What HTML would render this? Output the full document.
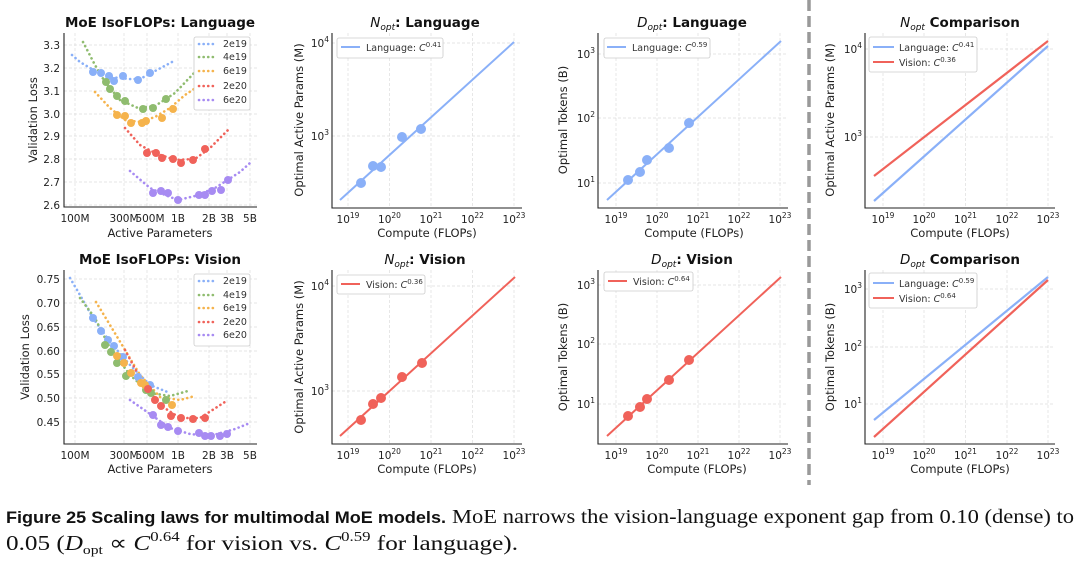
<!DOCTYPE html>
<html><head><meta charset="utf-8"><style>
html,body{margin:0;padding:0;background:#fff;}
svg{display:block;font-family:"DejaVu Sans","Liberation Sans",sans-serif;}
.g{stroke:#ddd;stroke-width:0.7;stroke-dasharray:3,2;}
.ax{stroke:#222;stroke-width:1.1;fill:none;}
.tk{font-size:10.5px;fill:#222;}
.lb{font-size:11.5px;fill:#222;}
.tt{font-size:13.5px;font-weight:bold;fill:#111;}
.lg{fill:#fff;stroke:#ccc;stroke-width:0.8;}
.lt{font-size:9.5px;fill:#333;}
.dot{fill:none;stroke-width:2.6;stroke-dasharray:0.1,4.5;stroke-linecap:round;}
</style></head><body>
<svg width="1080" height="561" viewBox="0 0 1080 561" xmlns="http://www.w3.org/2000/svg">

<!-- ============ Panel 1: MoE IsoFLOPs Language ============ -->
<g>
<g class="g">
<line x1="75" y1="33" x2="75" y2="207"/><line x1="124" y1="33" x2="124" y2="207"/><line x1="147" y1="33" x2="147" y2="207"/><line x1="178" y1="33" x2="178" y2="207"/><line x1="209" y1="33" x2="209" y2="207"/><line x1="227" y1="33" x2="227" y2="207"/><line x1="250" y1="33" x2="250" y2="207"/>
<line x1="64" y1="45" x2="257" y2="45"/><line x1="64" y1="68" x2="257" y2="68"/><line x1="64" y1="91" x2="257" y2="91"/><line x1="64" y1="114" x2="257" y2="114"/><line x1="64" y1="136" x2="257" y2="136"/><line x1="64" y1="159" x2="257" y2="159"/><line x1="64" y1="182" x2="257" y2="182"/><line x1="64" y1="205" x2="257" y2="205"/>
</g>
<g class="dot">
<polyline stroke="#8ab0f8" points="72,55 80,62 90,68 110,77 130,79 140,79 155,71 172,62"/>
<polyline stroke="#8fbc6f" points="83,42 95,65 105,82 120,100 138,108 155,106 175,93 195,72"/>
<polyline stroke="#f5b34c" points="95,92 110,108 125,120 140,122 155,117 170,108 185,95 200,85"/>
<polyline stroke="#f0625a" points="125,128 140,145 155,153 175,160 195,159 210,148 228,130"/>
<polyline stroke="#a78bf2" points="130,171 150,188 165,195 178,200 195,196 215,188 240,172 250,163"/>
</g>
<g fill="#8ab0f8"><circle cx="93" cy="72" r="4"/><circle cx="101" cy="73" r="4"/><circle cx="109" cy="76" r="4"/><circle cx="114" cy="81" r="4"/><circle cx="123" cy="76" r="4"/><circle cx="138" cy="80" r="4"/><circle cx="150" cy="73" r="4"/></g>
<g fill="#8fbc6f"><circle cx="106" cy="82" r="4"/><circle cx="110" cy="89" r="4"/><circle cx="117" cy="96" r="4"/><circle cx="125" cy="101" r="4"/><circle cx="143" cy="109" r="4"/><circle cx="153" cy="108" r="4"/><circle cx="166" cy="99" r="4"/></g>
<g fill="#f5b34c"><circle cx="117" cy="115" r="4"/><circle cx="125" cy="116" r="4"/><circle cx="131" cy="123" r="4"/><circle cx="142" cy="123" r="4"/><circle cx="146" cy="121" r="4"/><circle cx="162" cy="118" r="4"/><circle cx="173" cy="109" r="4"/></g>
<g fill="#f0625a"><circle cx="147" cy="153" r="4"/><circle cx="156" cy="153" r="4"/><circle cx="162" cy="158" r="4"/><circle cx="173" cy="159" r="4"/><circle cx="181" cy="163" r="4"/><circle cx="193" cy="160" r="4"/><circle cx="205" cy="149" r="4"/></g>
<g fill="#a78bf2"><circle cx="153" cy="193" r="4"/><circle cx="161" cy="191" r="4"/><circle cx="168" cy="193" r="4"/><circle cx="178" cy="200" r="4"/><circle cx="199" cy="195" r="4"/><circle cx="205" cy="195" r="4"/><circle cx="212" cy="191" r="4"/><circle cx="221" cy="190" r="4"/><circle cx="228" cy="180" r="4"/></g>
<path class="ax" d="M64,33 V207 H257"/>
<g class="tk" text-anchor="end"><text x="60" y="49">3.3</text><text x="60" y="72">3.2</text><text x="60" y="95">3.1</text><text x="60" y="118">3.0</text><text x="60" y="140">2.9</text><text x="60" y="163">2.8</text><text x="60" y="186">2.7</text><text x="60" y="209">2.6</text></g>
<g class="tk" text-anchor="middle"><text x="75" y="222">100M</text><text x="124" y="222">300M</text><text x="150" y="222">500M</text><text x="178" y="222">1B</text><text x="209" y="222">2B</text><text x="227" y="222">3B</text><text x="250" y="222">5B</text></g>
<text class="lb" x="160" y="237" text-anchor="middle">Active Parameters</text>
<text class="lb" x="37" y="120" text-anchor="middle" transform="rotate(-90 37 120)">Validation Loss</text>
<text class="tt" x="160" y="27" text-anchor="middle">MoE IsoFLOPs: Language</text>
<rect class="lg" x="194" y="37" width="56" height="73" rx="2"/>
<g class="dot" stroke-width="2.3"><line x1="199" y1="44" x2="217" y2="44" stroke="#8ab0f8"/><line x1="199" y1="57" x2="217" y2="57" stroke="#8fbc6f"/><line x1="199" y1="71" x2="217" y2="71" stroke="#f5b34c"/><line x1="199" y1="86" x2="217" y2="86" stroke="#f0625a"/><line x1="199" y1="100" x2="217" y2="100" stroke="#a78bf2"/></g>
<g class="lt"><text x="223" y="47">2e19</text><text x="223" y="60">4e19</text><text x="223" y="74">6e19</text><text x="223" y="89">2e20</text><text x="223" y="103">6e20</text></g>
</g>

<!-- ============ Panel 5: MoE IsoFLOPs Vision ============ -->
<g>
<g class="g">
<line x1="75" y1="270" x2="75" y2="444"/><line x1="124" y1="270" x2="124" y2="444"/><line x1="147" y1="270" x2="147" y2="444"/><line x1="178" y1="270" x2="178" y2="444"/><line x1="209" y1="270" x2="209" y2="444"/><line x1="227" y1="270" x2="227" y2="444"/><line x1="250" y1="270" x2="250" y2="444"/>
<line x1="64" y1="279" x2="257" y2="279"/><line x1="64" y1="303" x2="257" y2="303"/><line x1="64" y1="327" x2="257" y2="327"/><line x1="64" y1="351" x2="257" y2="351"/><line x1="64" y1="374" x2="257" y2="374"/><line x1="64" y1="398" x2="257" y2="398"/><line x1="64" y1="422" x2="257" y2="422"/>
</g>
<g class="dot">
<polyline stroke="#8ab0f8" points="70,278 80,295 93,318 110,342 130,365 150,385 170,393"/>
<polyline stroke="#8fbc6f" points="80,298 95,318 110,348 130,375 150,393 170,396 188,391"/>
<polyline stroke="#f5b34c" points="96,302 110,325 125,350 140,375 160,397 180,400 195,396"/>
<polyline stroke="#f0625a" points="125,350 140,378 160,405 180,418 200,418 228,400"/>
<polyline stroke="#a78bf2" points="130,400 150,414 170,428 190,434 210,436 235,429 250,423"/>
</g>
<g fill="#8ab0f8"><circle cx="93" cy="318" r="4"/><circle cx="101" cy="331" r="4"/><circle cx="108" cy="340" r="4"/><circle cx="114" cy="346" r="4"/><circle cx="123" cy="357" r="4"/><circle cx="138" cy="377" r="4"/><circle cx="150" cy="385" r="4"/></g>
<g fill="#8fbc6f"><circle cx="105" cy="345" r="4"/><circle cx="111" cy="352" r="4"/><circle cx="117" cy="363" r="4"/><circle cx="126" cy="376" r="4"/><circle cx="146" cy="390" r="4"/><circle cx="151" cy="393" r="4"/><circle cx="166" cy="400" r="4"/></g>
<g fill="#f5b34c"><circle cx="117" cy="356" r="4"/><circle cx="124" cy="363" r="4"/><circle cx="131" cy="373" r="4"/><circle cx="141" cy="383" r="4"/><circle cx="145" cy="385" r="4"/><circle cx="172" cy="405" r="4"/></g>
<g fill="#f0625a"><circle cx="148" cy="389" r="4"/><circle cx="155" cy="400" r="4"/><circle cx="161" cy="406" r="4"/><circle cx="171" cy="416" r="4"/><circle cx="181" cy="418" r="4"/><circle cx="193" cy="419" r="4"/><circle cx="205" cy="418" r="4"/></g>
<g fill="#a78bf2"><circle cx="153" cy="415" r="4"/><circle cx="161" cy="425" r="4"/><circle cx="168" cy="427" r="4"/><circle cx="178" cy="431" r="4"/><circle cx="199" cy="433" r="4"/><circle cx="205" cy="436" r="4"/><circle cx="211" cy="436" r="4"/><circle cx="220" cy="436" r="4"/><circle cx="227" cy="434" r="4"/></g>
<path class="ax" d="M64,270 V444 H257"/>
<g class="tk" text-anchor="end"><text x="60" y="283">0.75</text><text x="60" y="307">0.70</text><text x="60" y="331">0.65</text><text x="60" y="355">0.60</text><text x="60" y="378">0.55</text><text x="60" y="402">0.50</text><text x="60" y="426">0.45</text></g>
<g class="tk" text-anchor="middle"><text x="75" y="459">100M</text><text x="124" y="459">300M</text><text x="150" y="459">500M</text><text x="178" y="459">1B</text><text x="209" y="459">2B</text><text x="227" y="459">3B</text><text x="250" y="459">5B</text></g>
<text class="lb" x="160" y="473" text-anchor="middle">Active Parameters</text>
<text class="lb" x="29" y="357" text-anchor="middle" transform="rotate(-90 29 357)">Validation Loss</text>
<text class="tt" x="160" y="264" text-anchor="middle">MoE IsoFLOPs: Vision</text>
<rect class="lg" x="194" y="274" width="56" height="72" rx="2"/>
<g class="dot" stroke-width="2.3"><line x1="199" y1="281" x2="217" y2="281" stroke="#8ab0f8"/><line x1="199" y1="295" x2="217" y2="295" stroke="#8fbc6f"/><line x1="199" y1="308" x2="217" y2="308" stroke="#f5b34c"/><line x1="199" y1="322" x2="217" y2="322" stroke="#f0625a"/><line x1="199" y1="335" x2="217" y2="335" stroke="#a78bf2"/></g>
<g class="lt"><text x="223" y="284">2e19</text><text x="223" y="298">4e19</text><text x="223" y="311">6e19</text><text x="223" y="325">2e20</text><text x="223" y="338">6e20</text></g>
</g>

<!-- ============ Panel 2: Nopt Language ============ -->
<g>
<g class="g">
<line x1="348" y1="33" x2="348" y2="208"/><line x1="389.5" y1="33" x2="389.5" y2="208"/><line x1="431" y1="33" x2="431" y2="208"/><line x1="472.5" y1="33" x2="472.5" y2="208"/><line x1="514" y1="33" x2="514" y2="208"/>
<line x1="332" y1="43" x2="522" y2="43"/><line x1="332" y1="136" x2="522" y2="136"/>
</g>
<line x1="340" y1="200" x2="514" y2="42" stroke="#8ab0f8" stroke-width="2"/>
<g fill="#8ab0f8"><circle cx="361" cy="183" r="5"/><circle cx="373" cy="166" r="5"/><circle cx="381" cy="167" r="5"/><circle cx="402" cy="137" r="5"/><circle cx="421" cy="129" r="5"/></g>
<path class="ax" d="M332,33 V208 H522"/>
<g class="tk" text-anchor="middle"><text x="348" y="223">10<tspan dy="-5" font-size="7.5">19</tspan></text><text x="389.5" y="223">10<tspan dy="-5" font-size="7.5">20</tspan></text><text x="431" y="223">10<tspan dy="-5" font-size="7.5">21</tspan></text><text x="472.5" y="223">10<tspan dy="-5" font-size="7.5">22</tspan></text><text x="514" y="223">10<tspan dy="-5" font-size="7.5">23</tspan></text></g>
<g class="tk" text-anchor="end"><text x="329" y="47">10<tspan dy="-5" font-size="7.5">4</tspan></text><text x="329" y="140">10<tspan dy="-5" font-size="7.5">3</tspan></text></g>
<text class="lb" x="427" y="237" text-anchor="middle">Compute (FLOPs)</text>
<text class="lb" x="303" y="120" text-anchor="middle" transform="rotate(-90 303 120)">Optimal Active Params (M)</text>
<text class="tt" x="425" y="27" text-anchor="middle"><tspan font-style="italic" font-weight="normal">N<tspan font-size="9" dy="3">opt</tspan></tspan><tspan dy="-3">: Language</tspan></text>
<rect class="lg" x="337" y="38" width="106" height="20" rx="2"/>
<line x1="341" y1="47" x2="360" y2="47" stroke="#8ab0f8" stroke-width="2"/>
<text class="lt" x="366" y="51">Language: <tspan font-style="italic">C</tspan><tspan dy="-4" font-size="7">0.41</tspan></text>
</g>

<!-- ============ Panel 6: Nopt Vision ============ -->
<g>
<g class="g">
<line x1="348" y1="270" x2="348" y2="444"/><line x1="389.5" y1="270" x2="389.5" y2="444"/><line x1="431" y1="270" x2="431" y2="444"/><line x1="472.5" y1="270" x2="472.5" y2="444"/><line x1="514" y1="270" x2="514" y2="444"/>
<line x1="332" y1="286" x2="522" y2="286"/><line x1="332" y1="391" x2="522" y2="391"/>
</g>
<line x1="340" y1="436" x2="515" y2="277" stroke="#f0625a" stroke-width="2"/>
<g fill="#f0625a"><circle cx="361" cy="420" r="5"/><circle cx="373" cy="404" r="5"/><circle cx="381" cy="398" r="5"/><circle cx="402" cy="377" r="5"/><circle cx="422" cy="363" r="5"/></g>
<path class="ax" d="M332,270 V444 H522"/>
<g class="tk" text-anchor="middle"><text x="348" y="459">10<tspan dy="-5" font-size="7.5">19</tspan></text><text x="389.5" y="459">10<tspan dy="-5" font-size="7.5">20</tspan></text><text x="431" y="459">10<tspan dy="-5" font-size="7.5">21</tspan></text><text x="472.5" y="459">10<tspan dy="-5" font-size="7.5">22</tspan></text><text x="514" y="459">10<tspan dy="-5" font-size="7.5">23</tspan></text></g>
<g class="tk" text-anchor="end"><text x="329" y="290">10<tspan dy="-5" font-size="7.5">4</tspan></text><text x="329" y="395">10<tspan dy="-5" font-size="7.5">3</tspan></text></g>
<text class="lb" x="427" y="473" text-anchor="middle">Compute (FLOPs)</text>
<text class="lb" x="303" y="357" text-anchor="middle" transform="rotate(-90 303 357)">Optimal Active Params (M)</text>
<text class="tt" x="425" y="264" text-anchor="middle"><tspan font-style="italic" font-weight="normal">N<tspan font-size="9" dy="3">opt</tspan></tspan><tspan dy="-3">: Vision</tspan></text>
<rect class="lg" x="337" y="275" width="88" height="19" rx="2"/>
<line x1="341" y1="284" x2="360" y2="284" stroke="#f0625a" stroke-width="2"/>
<text class="lt" x="366" y="288">Vision: <tspan font-style="italic">C</tspan><tspan dy="-4" font-size="7">0.36</tspan></text>
</g>

<!-- ============ Panel 3: Dopt Language ============ -->
<g>
<g class="g">
<line x1="616" y1="33" x2="616" y2="208"/><line x1="657" y1="33" x2="657" y2="208"/><line x1="698" y1="33" x2="698" y2="208"/><line x1="739" y1="33" x2="739" y2="208"/><line x1="780" y1="33" x2="780" y2="208"/>
<line x1="598" y1="54" x2="788" y2="54"/><line x1="598" y1="118" x2="788" y2="118"/><line x1="598" y1="183" x2="788" y2="183"/>
</g>
<line x1="607" y1="200" x2="781" y2="41" stroke="#8ab0f8" stroke-width="2"/>
<g fill="#8ab0f8"><circle cx="628" cy="180" r="5"/><circle cx="640" cy="172" r="5"/><circle cx="647" cy="160" r="5"/><circle cx="669" cy="148" r="5"/><circle cx="689" cy="123" r="5"/></g>
<path class="ax" d="M598,33 V208 H788"/>
<g class="tk" text-anchor="middle"><text x="616" y="223">10<tspan dy="-5" font-size="7.5">19</tspan></text><text x="657" y="223">10<tspan dy="-5" font-size="7.5">20</tspan></text><text x="698" y="223">10<tspan dy="-5" font-size="7.5">21</tspan></text><text x="739" y="223">10<tspan dy="-5" font-size="7.5">22</tspan></text><text x="780" y="223">10<tspan dy="-5" font-size="7.5">23</tspan></text></g>
<g class="tk" text-anchor="end"><text x="595" y="58">10<tspan dy="-5" font-size="7.5">3</tspan></text><text x="595" y="122">10<tspan dy="-5" font-size="7.5">2</tspan></text><text x="595" y="187">10<tspan dy="-5" font-size="7.5">1</tspan></text></g>
<text class="lb" x="694" y="237" text-anchor="middle">Compute (FLOPs)</text>
<text class="lb" x="567" y="120" text-anchor="middle" transform="rotate(-90 567 120)">Optimal Tokens (B)</text>
<text class="tt" x="692" y="27" text-anchor="middle"><tspan font-style="italic" font-weight="normal">D<tspan font-size="9" dy="3">opt</tspan></tspan><tspan dy="-3">: Language</tspan></text>
<rect class="lg" x="604" y="38" width="106" height="20" rx="2"/>
<line x1="607" y1="47" x2="626" y2="47" stroke="#8ab0f8" stroke-width="2"/>
<text class="lt" x="632" y="51">Language: <tspan font-style="italic">C</tspan><tspan dy="-4" font-size="7">0.59</tspan></text>
</g>

<!-- ============ Panel 7: Dopt Vision ============ -->
<g>
<g class="g">
<line x1="616" y1="270" x2="616" y2="444"/><line x1="657" y1="270" x2="657" y2="444"/><line x1="698" y1="270" x2="698" y2="444"/><line x1="739" y1="270" x2="739" y2="444"/><line x1="780" y1="270" x2="780" y2="444"/>
<line x1="598" y1="285" x2="788" y2="285"/><line x1="598" y1="344" x2="788" y2="344"/><line x1="598" y1="404" x2="788" y2="404"/>
</g>
<line x1="607" y1="436" x2="781" y2="277" stroke="#f0625a" stroke-width="2"/>
<g fill="#f0625a"><circle cx="628" cy="416" r="5"/><circle cx="640" cy="407" r="5"/><circle cx="647" cy="399" r="5"/><circle cx="669" cy="380" r="5"/><circle cx="689" cy="360" r="5"/></g>
<path class="ax" d="M598,270 V444 H788"/>
<g class="tk" text-anchor="middle"><text x="616" y="459">10<tspan dy="-5" font-size="7.5">19</tspan></text><text x="657" y="459">10<tspan dy="-5" font-size="7.5">20</tspan></text><text x="698" y="459">10<tspan dy="-5" font-size="7.5">21</tspan></text><text x="739" y="459">10<tspan dy="-5" font-size="7.5">22</tspan></text><text x="780" y="459">10<tspan dy="-5" font-size="7.5">23</tspan></text></g>
<g class="tk" text-anchor="end"><text x="595" y="289">10<tspan dy="-5" font-size="7.5">3</tspan></text><text x="595" y="348">10<tspan dy="-5" font-size="7.5">2</tspan></text><text x="595" y="408">10<tspan dy="-5" font-size="7.5">1</tspan></text></g>
<text class="lb" x="697" y="473" text-anchor="middle">Compute (FLOPs)</text>
<text class="lb" x="567" y="357" text-anchor="middle" transform="rotate(-90 567 357)">Optimal Tokens (B)</text>
<text class="tt" x="692" y="264" text-anchor="middle"><tspan font-style="italic" font-weight="normal">D<tspan font-size="9" dy="3">opt</tspan></tspan><tspan dy="-3">: Vision</tspan></text>
<rect class="lg" x="604" y="272" width="89" height="19" rx="2"/>
<line x1="608" y1="281" x2="627" y2="281" stroke="#f0625a" stroke-width="2"/>
<text class="lt" x="633" y="285">Vision: <tspan font-style="italic">C</tspan><tspan dy="-4" font-size="7">0.64</tspan></text>
</g>

<!-- separator -->
<line x1="809" y1="0" x2="809" y2="485" stroke="#999" stroke-width="3.5" stroke-dasharray="11,5"/>

<!-- ============ Panel 4: Nopt Comparison ============ -->
<g>
<g class="g">
<line x1="883" y1="33" x2="883" y2="208"/><line x1="924" y1="33" x2="924" y2="208"/><line x1="965.5" y1="33" x2="965.5" y2="208"/><line x1="1007" y1="33" x2="1007" y2="208"/><line x1="1048" y1="33" x2="1048" y2="208"/>
<line x1="865" y1="49" x2="1055" y2="49"/><line x1="865" y1="137" x2="1055" y2="137"/>
</g>
<line x1="874" y1="201" x2="1048" y2="46" stroke="#8ab0f8" stroke-width="2.2"/>
<line x1="874" y1="176" x2="1048" y2="41" stroke="#f0625a" stroke-width="2.2"/>
<path class="ax" d="M865,33 V208 H1055"/>
<g class="tk" text-anchor="middle"><text x="883" y="223">10<tspan dy="-5" font-size="7.5">19</tspan></text><text x="924" y="223">10<tspan dy="-5" font-size="7.5">20</tspan></text><text x="965.5" y="223">10<tspan dy="-5" font-size="7.5">21</tspan></text><text x="1007" y="223">10<tspan dy="-5" font-size="7.5">22</tspan></text><text x="1048" y="223">10<tspan dy="-5" font-size="7.5">23</tspan></text></g>
<g class="tk" text-anchor="end"><text x="862" y="53">10<tspan dy="-5" font-size="7.5">4</tspan></text><text x="862" y="141">10<tspan dy="-5" font-size="7.5">3</tspan></text></g>
<text class="lb" x="960" y="237" text-anchor="middle">Compute (FLOPs)</text>
<text class="lb" x="834" y="120" text-anchor="middle" transform="rotate(-90 834 120)">Optimal Active Params (M)</text>
<text class="tt" x="960" y="27" text-anchor="middle"><tspan font-style="italic" font-weight="normal">N<tspan font-size="9" dy="3">opt</tspan></tspan><tspan dy="-3"> Comparison</tspan></text>
<rect class="lg" x="869" y="37" width="108" height="35" rx="2"/>
<line x1="873" y1="47" x2="894" y2="47" stroke="#8ab0f8" stroke-width="2"/>
<line x1="873" y1="62" x2="894" y2="62" stroke="#f0625a" stroke-width="2"/>
<text class="lt" x="899" y="51">Language: <tspan font-style="italic">C</tspan><tspan dy="-4" font-size="7">0.41</tspan></text>
<text class="lt" x="899" y="66">Vision: <tspan font-style="italic">C</tspan><tspan dy="-4" font-size="7">0.36</tspan></text>
</g>

<!-- ============ Panel 8: Dopt Comparison ============ -->
<g>
<g class="g">
<line x1="883" y1="270" x2="883" y2="444"/><line x1="924" y1="270" x2="924" y2="444"/><line x1="965.5" y1="270" x2="965.5" y2="444"/><line x1="1007" y1="270" x2="1007" y2="444"/><line x1="1048" y1="270" x2="1048" y2="444"/>
<line x1="865" y1="289" x2="1055" y2="289"/><line x1="865" y1="347" x2="1055" y2="347"/><line x1="865" y1="404" x2="1055" y2="404"/>
</g>
<line x1="874" y1="420" x2="1048" y2="277" stroke="#8ab0f8" stroke-width="2.2"/>
<line x1="874" y1="437" x2="1048" y2="280" stroke="#f0625a" stroke-width="2.2"/>
<path class="ax" d="M865,270 V444 H1055"/>
<g class="tk" text-anchor="middle"><text x="883" y="459">10<tspan dy="-5" font-size="7.5">19</tspan></text><text x="924" y="459">10<tspan dy="-5" font-size="7.5">20</tspan></text><text x="965.5" y="459">10<tspan dy="-5" font-size="7.5">21</tspan></text><text x="1007" y="459">10<tspan dy="-5" font-size="7.5">22</tspan></text><text x="1048" y="459">10<tspan dy="-5" font-size="7.5">23</tspan></text></g>
<g class="tk" text-anchor="end"><text x="862" y="293">10<tspan dy="-5" font-size="7.5">3</tspan></text><text x="862" y="351">10<tspan dy="-5" font-size="7.5">2</tspan></text><text x="862" y="408">10<tspan dy="-5" font-size="7.5">1</tspan></text></g>
<text class="lb" x="960" y="473" text-anchor="middle">Compute (FLOPs)</text>
<text class="lb" x="834" y="357" text-anchor="middle" transform="rotate(-90 834 357)">Optimal Tokens (B)</text>
<text class="tt" x="960" y="264" text-anchor="middle"><tspan font-style="italic" font-weight="normal">D<tspan font-size="9" dy="3">opt</tspan></tspan><tspan dy="-3"> Comparison</tspan></text>
<rect class="lg" x="869" y="273" width="108" height="35" rx="2"/>
<line x1="873" y1="283" x2="894" y2="283" stroke="#8ab0f8" stroke-width="2"/>
<line x1="873" y1="298" x2="894" y2="298" stroke="#f0625a" stroke-width="2"/>
<text class="lt" x="899" y="287">Language: <tspan font-style="italic">C</tspan><tspan dy="-4" font-size="7">0.59</tspan></text>
<text class="lt" x="899" y="302">Vision: <tspan font-style="italic">C</tspan><tspan dy="-4" font-size="7">0.64</tspan></text>
</g>

<!-- caption -->
<text x="6" y="523" font-family="Liberation Sans Narrow, Liberation Sans, sans-serif" font-weight="bold" font-size="17" fill="#111" textLength="440" lengthAdjust="spacingAndGlyphs">Figure 25  Scaling laws for multimodal MoE models.</text>
<text x="452" y="523" font-family="Liberation Serif, serif" font-size="20" fill="#111" textLength="622" lengthAdjust="spacingAndGlyphs">MoE narrows the vision-language exponent gap from 0.10 (dense) to</text>
<text x="6" y="550" font-family="Liberation Serif, serif" font-size="21" fill="#111" textLength="512" lengthAdjust="spacingAndGlyphs">0.05 (<tspan font-style="italic">D</tspan><tspan font-size="13" dy="4">opt</tspan><tspan dy="-4"> ∝ </tspan><tspan font-style="italic">C</tspan><tspan font-size="14" dy="-9">0.64</tspan><tspan dy="9"> for vision vs. </tspan><tspan font-style="italic">C</tspan><tspan font-size="14" dy="-9">0.59</tspan><tspan dy="9"> for language).</tspan></text>
</svg>
</body></html>
